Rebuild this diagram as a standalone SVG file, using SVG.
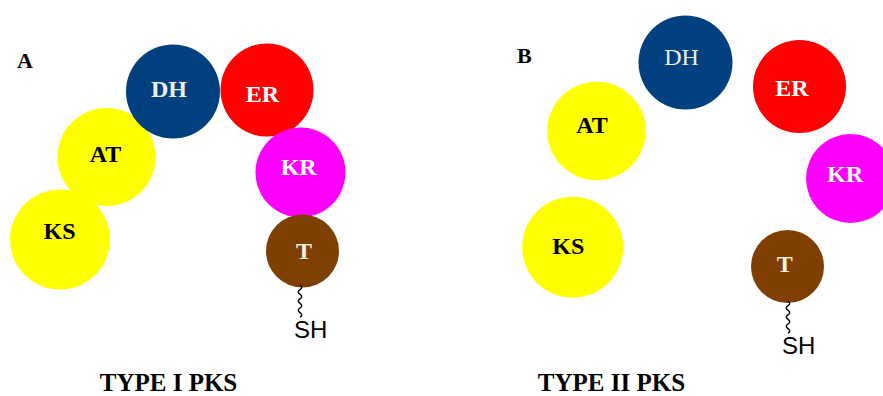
<svg xmlns="http://www.w3.org/2000/svg" width="883" height="396" viewBox="0 0 883 396">
  <style>
    .lbl { font-family: "Liberation Serif", "Times New Roman", serif; font-weight: bold; font-size: 24px; text-anchor: middle; }
    .dark { fill: #000000; }
    .light { fill: #FFFFFF; }
    .panel { font-family: "Liberation Serif", "Times New Roman", serif; font-weight: bold; font-size: 22px; fill: #000; }
    .title { font-family: "Liberation Serif", "Times New Roman", serif; font-weight: bold; font-size: 25px; fill: #000; text-anchor: middle; }
    .sh { font-family: "Liberation Sans", Arial, sans-serif; font-size: 24px; fill: #000; }
    .ks, .at { fill: #FFFF00; }
    .dh { fill: #00407F; }
    .er { fill: #FF0000; }
    .kr { fill: #FF00FF; }
    .t { fill: #7F3F00; }
    .tether { fill: none; stroke: #000; stroke-width: 1.4; }
  </style>

  <rect width="883" height="396" fill="#FFFFFF"/>

  <!-- Panel A: type I PKS, domains fused in one chain -->
  <text class="panel" x="17" y="68">A</text>
  <g id="A-KS">
    <circle class="ks" cx="60" cy="239.5" r="50"/>
    <text class="lbl dark" x="59.5" y="239">KS</text>
  </g>
  <g id="A-AT">
    <circle class="at" cx="106.5" cy="157" r="49"/>
    <text class="lbl dark" x="105.5" y="161.5">AT</text>
  </g>
  <g id="A-DH">
    <circle class="dh" cx="173" cy="91.5" r="47"/>
    <text class="lbl" fill="#EEEEEE" x="169" y="96.5">DH</text>
  </g>
  <g id="A-ER">
    <circle class="er" cx="267" cy="90" r="46.5"/>
    <text class="lbl light" x="262.5" y="101.5">ER</text>
  </g>
  <g id="A-KR">
    <circle class="kr" cx="300.5" cy="172.5" r="45"/>
    <text class="lbl light" x="298.7" y="174.5">KR</text>
  </g>
  <g id="A-T">
    <circle class="t" cx="302.5" cy="251" r="36.5"/>
    <text class="lbl" fill="#F5F0E0" x="304" y="259">T</text>
  </g>
  <text class="sh" x="294" y="338">SH</text>
  <text class="title" x="168.5" y="390.5">TYPE I PKS</text>

  <!-- Panel B: type II PKS, discrete enzymes -->
  <text class="panel" x="517" y="63">B</text>
  <g id="B-DH">
    <circle class="dh" cx="685.5" cy="62.5" r="47"/>
    <text class="lbl" style="font-weight:normal" fill="#EEEEEE" x="681.5" y="65">DH</text>
  </g>
  <g id="B-ER">
    <circle class="er" cx="799.5" cy="86.5" r="46.5"/>
    <text class="lbl light" x="792" y="95.5">ER</text>
  </g>
  <g id="B-KR">
    <circle class="kr" cx="850.5" cy="178.5" r="44.5"/>
    <text class="lbl light" x="845" y="182">KR</text>
  </g>
  <g id="B-AT">
    <circle class="at" cx="596.5" cy="131" r="49.3"/>
    <text class="lbl dark" x="592" y="133.3">AT</text>
  </g>
  <g id="B-KS">
    <circle class="ks" cx="572.7" cy="247.2" r="50.5"/>
    <text class="lbl dark" x="568.3" y="254">KS</text>
  </g>
  <g id="B-T">
    <circle class="t" cx="787.5" cy="266.5" r="36.5"/>
    <text class="lbl" fill="#F5F0E0" x="784.7" y="271.7">T</text>
  </g>
  <text class="sh" x="782" y="354">SH</text>
  <text class="title" x="611.5" y="390.5">TYPE II PKS</text>

  <!-- phosphopantetheine tethers -->
  <g id="connectors">
    <path class="tether" d="M300,285 q3.5,2.3 0,4.6 q-3.5,2.3 0,4.6 q3.5,2.3 0,4.6 q-3.5,2.3 0,4.6 q3.5,2.3 0,4.6 q-3.5,2.3 0,4.6 q3.5,2.3 0,4.6"/>
    <path class="tether" d="M788,301 q3.5,2.3 0,4.6 q-3.5,2.3 0,4.6 q3.5,2.3 0,4.6 q-3.5,2.3 0,4.6 q3.5,2.3 0,4.6 q-3.5,2.3 0,4.6 q3.5,2.3 0,4.6"/>
  </g>
</svg>
